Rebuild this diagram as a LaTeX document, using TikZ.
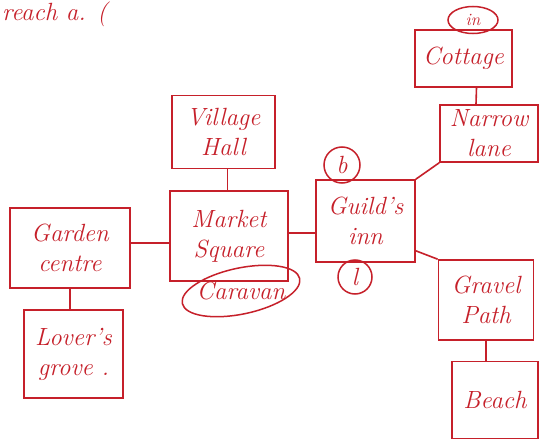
\documentclass[tikz,border=0pt]{standalone}
\usetikzlibrary{shapes.geometric}
\definecolor{ink}{RGB}{198,32,42}
\begin{document}
\begin{tikzpicture}[x=1pt,y=-1pt,
  box/.style={draw=ink, line width=1.6pt, rectangle, text=ink, font=\Huge\itshape, align=center, inner sep=0pt},
  ring/.style={draw=ink, line width=1.5pt, ellipse, text=ink, inner sep=0pt},
  word/.style={text=ink, inner sep=0pt},
  link/.style={draw=ink, line width=1.6pt}]
\useasboundingbox (0,0) rectangle (541,444);
\fill[white] (0,0) rectangle (541,444);
% note at top-left
\node[word, anchor=base west, font=\Huge\itshape] (note) at (2,21) {reach a. (};
% boxes
\node[box, minimum width=97pt, minimum height=57pt] (cottage) at (463.5,58.5) {Cottage};
\node[ring, minimum width=50pt, minimum height=27pt, font=\LARGE\itshape] (inmark) at (473,20) {in};
\node[box, minimum width=98pt, minimum height=57pt] (lane) at (489,133.5) {Narrow\\lane};
\node[box, minimum width=99pt, minimum height=82pt] (guild) at (365.5,221) {Guild's\\inn};
\node[ring, circle, minimum size=36pt, font=\Huge\itshape] (bmark) at (342,165) {b};
\node[ring, circle, minimum size=34pt, font=\Huge\itshape] (lmark) at (355,277) {l};
\node[box, minimum width=95pt, minimum height=80pt] (gravel) at (486,300) {Gravel\\Path};
\node[box, minimum width=86pt, minimum height=77pt] (beach) at (495,400) {Beach};
\node[box, minimum width=103pt, minimum height=73pt] (village) at (223.5,132) {Village\\Hall};
\node[box, minimum width=118pt, minimum height=90pt] (market) at (229,236) {Market\\Square};
\node[ring, minimum width=120pt, minimum height=46pt, rotate=12] (caravanring) at (241,291) {};
\node[word, font=\Huge\itshape] (caravan) at (caravanring.center) {Caravan};
\node[box, minimum width=120pt, minimum height=80pt] (garden) at (70,248) {Garden\\centre};
\node[box, minimum width=99pt, minimum height=88pt] (lovers) at (73.5,354) {Lover's\\grove .};
% connectors
\draw[link] ([xshift=13pt]cottage.south) -- ([xshift=-13pt]lane.north);
\draw[link] ([xshift=4pt]village.south) -- ([xshift=4pt]village.south |- market.north);
\draw[link] ([yshift=5pt]garden.east) -- ([yshift=5pt]garden.east -| market.west);
\draw[link] ([yshift=3pt]market.east) -- ([yshift=3pt]market.east -| guild.west);
\draw[link] (guild.north east) -- (lane.south west);
\draw[link] ([yshift=12pt]guild.south east) -- (gravel.north west);
\draw[link] (garden.south) -- (garden.south |- lovers.north);
\draw[link] (gravel.south) -- (gravel.south |- beach.north);
\end{tikzpicture}
\end{document}
